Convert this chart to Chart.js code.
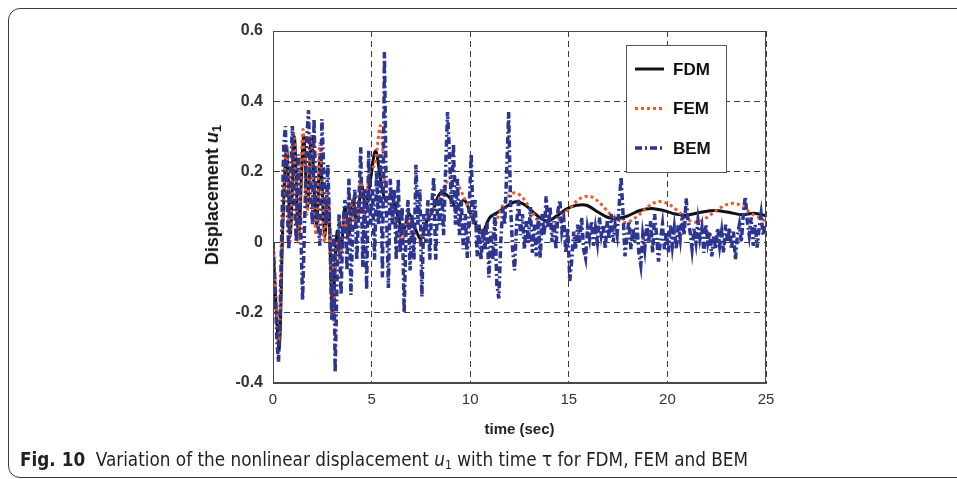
<!DOCTYPE html>
<html>
<head>
<meta charset="utf-8">
<script src="https://cdn.jsdelivr.net/npm/chart.js@4.4.1/dist/chart.umd.min.js"></script>
<style>
html,body{margin:0;padding:0;background:#fff;}
body{width:957px;height:479px;position:relative;overflow:hidden;}
#frame{position:absolute;left:8px;top:8px;width:1000px;height:470px;border:1px solid #3a3a3a;border-radius:12px 0 0 12px;box-sizing:border-box;}
#c{position:absolute;left:0;top:0;}
#ytitle{position:absolute;left:213px;top:195px;transform:translate(-50%,-50%) rotate(-90deg);font:bold 18px "Liberation Sans",Arial,sans-serif;white-space:nowrap;color:#111;}
#ytitle sub{font-size:13px;vertical-align:-3px;}
#caption{position:absolute;left:20px;top:447px;font-size:20px;font-family:"Liberation Sans Narrow","DejaVu Sans Condensed","Roboto","Liberation Sans",sans-serif;white-space:nowrap;color:#231f20;transform-origin:0 0;}
#caption sub{font-size:13px;vertical-align:-3px;}
</style>
</head>
<body>
<div id="frame"></div>
<canvas id="c" width="957" height="479"></canvas>
<div id="ytitle">Displacement <i>u</i><sub>1</sub></div>
<div id="caption"><b>Fig. 10</b>&nbsp; Variation of the nonlinear displacement <i>u</i><sub>1</sub> with time τ for FDM, FEM and BEM</div>
<script>
// ---- data ----
const xTickVals = [0, 5, 10, 15, 20, 25];
const yTickVals = [-0.4, -0.2, 0, 0.2, 0.4, 0.6];
const yTickLabels = ['-0.4', '-0.2', '0', '0.2', '0.4', '0.6'];
const xTickLabels = ['0', '5', '10', '15', '20', '25'];
const seriesNames = ['FDM', 'FEM', 'BEM'];

const fdmT = [0,0.15,0.32,0.5,0.7,0.88,1.08,1.3,1.55,1.75,1.95,2.2,2.4,2.62,2.8,3.02,3.25,3.45,3.65,3.85,4.05,4.25,4.5,4.7,4.95,5.2,5.45,5.7,6,6.3,6.6,6.9,7.2,7.5,7.8,8.1,8.5,8.9,9.3,9.7,10.1,10.6,11,11.4,11.8,12.3,12.8,13.3,13.9,14.4,14.9,15.4,15.9,16.5,17,17.5,18,18.6,19.2,19.8,20.4,21,21.7,22.4,23.1,23.8,24.4,25];
const fdmV = [0,-0.18,-0.3,0.05,0.27,0.02,0.3,0.02,0.3,0.1,0.3,0.05,0.25,0.02,0.12,-0.2,0.03,-0.02,0.1,0.02,0.12,0.06,0.16,0.1,0.18,0.26,0.18,0.12,0.13,0.08,0.03,0.08,0.04,0.01,0.06,0.09,0.14,0.13,0.1,0.12,0.07,0.03,0.07,0.085,0.1,0.115,0.105,0.08,0.06,0.075,0.095,0.105,0.105,0.085,0.07,0.068,0.075,0.09,0.096,0.09,0.08,0.077,0.085,0.09,0.085,0.078,0.082,0.075];

const femT = [0,0.15,0.3,0.48,0.68,0.86,1.05,1.28,1.52,1.72,1.92,2.18,2.38,2.6,2.78,3.05,3.25,3.42,3.62,3.82,4.02,4.22,4.45,4.65,4.9,5.15,5.45,5.7,6,6.3,6.55,6.8,7.1,7.4,7.7,8,8.4,8.8,9.15,9.5,9.9,10.3,10.7,11,11.4,11.8,12.2,12.6,13.1,13.6,14.1,14.6,15.1,15.6,16.1,16.6,17.1,17.6,18,18.5,19,19.5,20,20.5,21,21.5,22,22.6,23.2,23.7,24.3,25];
const femV = [0,-0.15,-0.28,0.05,0.28,0,0.31,0,0.32,0.08,0.3,0.02,0.28,0,0.15,-0.22,0,-0.05,0.08,0,0.12,0.04,0.18,0.08,0.2,0.22,0.33,0.15,0.08,0.05,-0.01,0.06,0.02,0,0.04,0.08,0.12,0.17,0.19,0.15,0.1,0.05,0.01,0,0.07,0.12,0.14,0.13,0.09,0.05,0.04,0.07,0.1,0.125,0.13,0.11,0.08,0.06,0.057,0.075,0.1,0.115,0.11,0.09,0.065,0.057,0.07,0.095,0.11,0.105,0.08,0.06];

const bemT = [0,0.1,0.2,0.28,0.36,0.45,0.55,0.63,0.72,0.8,0.9,0.98,1.08,1.18,1.28,1.38,1.5,1.6,1.72,1.8,1.9,2,2.08,2.18,2.28,2.38,2.48,2.58,2.68,2.78,2.88,2.98,3.08,3.15,3.25,3.35,3.45,3.55,3.65,3.75,3.85,3.95,4.05,4.15,4.25,4.35,4.45,4.55,4.65,4.75,4.85,4.95,5.05,5.15,5.25,5.35,5.45,5.55,5.65,5.75,5.85,5.95,6.05,6.15,6.25,6.35,6.45,6.55,6.65,6.75,6.85,6.95,7.05,7.15,7.25,7.35,7.45,7.55,7.65,7.75,7.85,7.95,8.05,8.15,8.25,8.35,8.45,8.55,8.65,8.75,8.85,8.95,9.05,9.15,9.25,9.35,9.45,9.55,9.65,9.75,9.85,9.95,10.05,10.15,10.25,10.35,10.45,10.55,10.65,10.75,10.85,10.95,11.05,11.15,11.25,11.35,11.45,11.55,11.65,11.75,11.85,11.95,12.05,12.15,12.25,12.35,12.45,12.55,12.65,12.75,12.85,12.95,13.05,13.15,13.25,13.35,13.45,13.55,13.65,13.75,13.85,13.95,14.05,14.15,14.25,14.35,14.45,14.55,14.65,14.75,14.85,14.95,15.05,15.15,15.25,15.35,15.45,15.55,15.65,15.75,15.85,15.95,16.05,16.15,16.25,16.35,16.45,16.55,16.65,16.75,16.85,16.95,17.05,17.15,17.25,17.35,17.45,17.55,17.65,17.75,17.85,17.95,18.05,18.15,18.25,18.35,18.45,18.55,18.65,18.75,18.85,18.95,19.05,19.15,19.25,19.35,19.45,19.55,19.65,19.75,19.85,19.95,20.05,20.15,20.25,20.35,20.45,20.55,20.65,20.75,20.85,20.95,21.05,21.15,21.25,21.35,21.45,21.55,21.65,21.75,21.85,21.95,22.05,22.15,22.25,22.35,22.45,22.55,22.65,22.75,22.85,22.95,23.05,23.15,23.25,23.35,23.45,23.55,23.65,23.75,23.85,23.95,24.05,24.15,24.25,24.35,24.45,24.55,24.65,24.75,24.85,24.95];
const bemV = [0,-0.12,-0.28,-0.34,-0.2,0.05,0.28,0.33,0.1,-0.02,0.2,0.33,0.12,0,0.25,0.1,-0.165,0.05,0.3,0.375,0.15,0.05,0.35,0.1,0.05,-0.01,0.35,0.2,0.05,0.22,0.03,-0.22,0.02,-0.37,-0.1,0.08,-0.15,0.05,0.12,-0.08,0.18,-0.15,0.05,0.15,-0.05,0.1,0.27,-0.07,0.15,-0.135,0.26,0.05,0.15,-0.05,0.2,0.05,0.25,-0.1,0.54,0.1,-0.13,0.18,0.05,0.15,-0.05,0.18,-0.03,0.1,-0.2,0.05,0.12,-0.08,0.08,-0.05,0.22,0.05,0.15,-0.155,0.08,0,0.12,-0.05,0.1,0.185,-0.05,0.12,0.05,0.15,0.02,0.2,0.37,0.25,0.1,0.28,0.05,0.18,0.02,0.12,-0.02,0.08,-0.045,0.1,0.25,0.05,0.12,-0.04,0.05,-0.05,0.04,-0.02,0.06,-0.1,0.03,-0.05,0.08,-0.12,-0.16,0,0.1,0.05,0.2,0.37,0.1,-0.02,-0.08,0.05,0.12,0.02,0.08,-0.02,0.06,0,0.1,-0.03,0.05,-0.04,0.07,-0.045,0.08,0.02,0.13,0.04,0.1,0,0.06,-0.02,0.09,0.12,0.03,0.06,-0.03,0.04,-0.11,-0.05,0.03,-0.02,0.05,0,0.07,-0.02,-0.045,0.04,0.01,0.06,-0.01,0.04,0,0.07,0.02,0.05,-0.02,0.06,0.01,0.08,0,0.05,0.02,0.1,0.185,0.08,-0.04,0.02,0.06,-0.02,0.04,0,0.06,-0.03,-0.065,0.02,-0.02,0.05,0,0.06,-0.03,0.08,0.02,-0.055,0.01,0.05,-0.02,0.03,-0.03,0.05,-0.01,0.04,-0.02,0.05,0.01,0.08,0.02,0.125,0.06,0.03,-0.02,0.04,0,0.06,0.01,0.04,-0.03,0.05,0,0.03,-0.04,0.02,-0.02,0.04,-0.01,0.03,-0.03,0.05,0,0.04,-0.02,0.03,-0.05,0.02,0.05,0,0.08,0.13,0.06,0.02,0.07,-0.01,0.05,-0.015,0.04,0.08,0.02,0.05];

// ---- build chart ----
const FONT = '"Liberation Sans", Arial, Helvetica, sans-serif';
const pts = (T, V) => T.map((t, i) => ({x: t, y: V[i]}));

const frameAndLegend = {
  id: 'frameAndLegend',
  afterDatasetsDraw(chart) {
    const {ctx, chartArea: a} = chart;
    ctx.save();
    ctx.setLineDash([]);
    ctx.strokeStyle = '#4a4a4a';
    ctx.lineWidth = 1;
    ctx.strokeRect(Math.round(a.left) + 0.5, Math.round(a.top) + 0.5,
                   Math.round(a.right - a.left) - 1, Math.round(a.bottom - a.top) - 1);
    // legend box
    const bx = Math.round(a.right) - 140, by = Math.round(a.top) + 14, bw = 100, bh = 127;
    ctx.fillStyle = '#fff';
    ctx.fillRect(bx, by, bw, bh);
    ctx.strokeStyle = '#555';
    ctx.strokeRect(bx + 0.5, by + 0.5, bw, bh);
    seriesNames.forEach((name, i) => {
      const ds = chart.data.datasets.find(d => d.label === name);
      const y = by + 24 + i * 39.5;
      ctx.save();
      ctx.beginPath();
      ctx.setLineDash(ds.borderDash || []);
      ctx.lineWidth = ds.borderWidth;
      ctx.strokeStyle = ds.borderColor;
      ctx.moveTo(bx + 9, y);
      ctx.lineTo(bx + 38, y);
      ctx.stroke();
      ctx.restore();
      ctx.fillStyle = '#111';
      ctx.font = 'bold 17px ' + FONT;
      ctx.textBaseline = 'middle';
      ctx.textAlign = 'left';
      ctx.fillText(name, bx + 47, y + 1);
    });
    ctx.restore();
  }
};

new Chart(document.getElementById('c'), {
  type: 'line',
  data: {
    datasets: [
      {label: 'FDM', data: pts(fdmT, fdmV), borderColor: '#111111', borderWidth: 3,
       pointRadius: 0, tension: 0.35, order: 2},
      {label: 'FEM', data: pts(femT, femV), borderColor: '#ea5a2e', borderWidth: 3,
       borderDash: [3, 3], pointRadius: 0, tension: 0.35, order: 1},
      {label: 'BEM', data: pts(bemT, bemV), borderColor: '#2c3590', borderWidth: 3.5,
       borderDash: [7, 3, 2, 3], pointRadius: 0, tension: 0, order: 0}
    ]
  },
  options: {
    responsive: false,
    animation: false,
    events: [],
    layout: {padding: {left: 0, right: 191, top: 31, bottom: 0}},
    plugins: {legend: {display: false}, tooltip: {enabled: false}},
    scales: {
      x: {
        type: 'linear', min: 0, max: 25,
        afterBuildTicks: s => { s.ticks = xTickVals.map(v => ({value: v})); },
        afterFit: s => { s.height = 96; },
        ticks: {padding: 8, color: '#333', font: {family: FONT, size: 15},
                maxRotation: 0, autoSkip: false,
                callback: (v) => xTickLabels[xTickVals.indexOf(v)]},
        grid: {color: '#3c3c3c', lineWidth: 1, drawTicks: false},
        border: {display: true, color: '#4a4a4a', width: 1, dash: [6, 4]},
        title: {display: true, text: 'time (sec)', color: '#222',
                font: {family: FONT, size: 15, weight: 'bold'}, padding: {top: 0, bottom: 40}}
      },
      y: {
        type: 'linear', min: -0.4, max: 0.6,
        afterBuildTicks: s => { s.ticks = yTickVals.map(v => ({value: v})); },
        afterFit: s => { s.width = 273; },
        ticks: {padding: 10, color: '#333', font: {family: FONT, size: 16, weight: 'bold'},
                autoSkip: false,
                callback: (v) => yTickLabels[yTickVals.findIndex(t => Math.abs(t - v) < 1e-9)]},
        grid: {color: '#3c3c3c', lineWidth: 1, drawTicks: false},
        border: {display: true, color: '#4a4a4a', width: 1, dash: [6, 4]}
      }
    }
  },
  plugins: [frameAndLegend]
});

// fit caption to its width in the figure
const cap = document.getElementById('caption');
const w = cap.getBoundingClientRect().width;
cap.style.transform = 'scaleX(' + (728 / w) + ')';
</script>
</body>
</html>
